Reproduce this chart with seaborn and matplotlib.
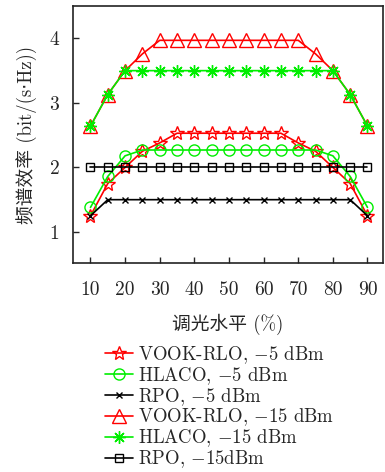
import matplotlib
matplotlib.use("Agg")
import matplotlib.pyplot as plt
import seaborn as sns

# 数据
dimming = [10, 15, 20, 25, 30, 35, 40, 45, 50, 55, 60, 65, 70, 75, 80, 85, 90]
vook_5 = [1.25, 1.75, 2.0, 2.25, 2.38, 2.53, 2.53, 2.53, 2.53, 2.53, 2.53, 2.53, 2.38, 2.25, 2.0, 1.75, 1.25]
hlaco_5 = [1.38, 1.86, 2.18, 2.27, 2.27, 2.27, 2.27, 2.27, 2.27, 2.27, 2.27, 2.27, 2.27, 2.27, 2.18, 1.86, 1.38]
rpo_5 = [1.25, 1.5, 1.5, 1.5, 1.5, 1.5, 1.5, 1.5, 1.5, 1.5, 1.5, 1.5, 1.5, 1.5, 1.5, 1.5, 1.25]
vook_15 = [2.64, 3.13, 3.5, 3.76, 3.97, 3.97, 3.97, 3.97, 3.97, 3.97, 3.97, 3.97, 3.97, 3.76, 3.5, 3.13, 2.64]
hlaco_15 = [2.64, 3.13, 3.5, 3.5, 3.5, 3.5, 3.5, 3.5, 3.5, 3.5, 3.5, 3.5, 3.5, 3.5, 3.5, 3.13, 2.64]
rpo_15 = [2.0] * 17

labels = ["VOOK-RLO, $-$5 dBm", "HLACO, $-$5 dBm", "RPO, $-$5 dBm",
          "VOOK-RLO, $-$15 dBm", "HLACO, $-$15 dBm", "RPO, $-$15dBm"]
xticks = [10, 20, 30, 40, 50, 60, 70, 80, 90]
yticks = [1, 2, 3, 4]

sns.set_style("ticks")
plt.rcParams['font.family'] = ['cmr10', 'Noto Sans CJK SC', 'DejaVu Sans']
plt.rcParams['mathtext.fontset'] = 'cm'
plt.rcParams['axes.formatter.use_mathtext'] = True

fig = plt.figure(figsize=(3.85, 4.72), dpi=100)
ax = fig.add_axes([0.19, 0.443, 0.805, 0.544])

# (数据, 颜色, 标记, 标记大小)
series = [
    (vook_5, "#ff0000", "*", 10),
    (hlaco_5, "#00ee00", "o", 8),
    (rpo_5, "black", "x", 5),
    (vook_15, "#ff0000", "^", 10),
    (hlaco_15, "#00ee00", (8, 2, 0), 9),
    (rpo_15, "black", "s", 6),
]
for (vals, col, mk, ms), lab in zip(series, labels):
    sns.lineplot(x=dimming, y=vals, ax=ax, color=col, marker=mk, markersize=ms,
                 markerfacecolor="none", markeredgecolor=col, markeredgewidth=1.0,
                 linewidth=1.2, label=lab)

ax.set_xlim(5, 94.5)
ax.set_ylim(0.52, 4.5)
ax.set_xticks(xticks)
ax.set_xticklabels([str(t) for t in xticks])
ax.set_yticks(yticks)
ax.set_yticklabels([str(t) for t in yticks])
ax.tick_params(direction="in", length=4, width=1, labelsize=14, pad=13)
ax.tick_params(axis="y", pad=10)
for s in ax.spines.values():
    s.set_linewidth(1.2)
    s.set_color("#222222")

ax.set_xlabel("调光水平 (%)", fontsize=13.5, labelpad=11)
ax.set_ylabel("频谱效率 (bit/(s\u22c5Hz))", fontsize=13.5, labelpad=9)

handles, labs = ax.get_legend_handles_labels()
ax.legend_.remove()
fig.legend(handles, labs, loc="upper left", bbox_to_anchor=(0.272, 0.271),
           frameon=False, fontsize=13.5, handlelength=1.5, handletextpad=0.3,
           labelspacing=-0.05, borderpad=0, borderaxespad=0)

fig.savefig("out.png", dpi=100)
